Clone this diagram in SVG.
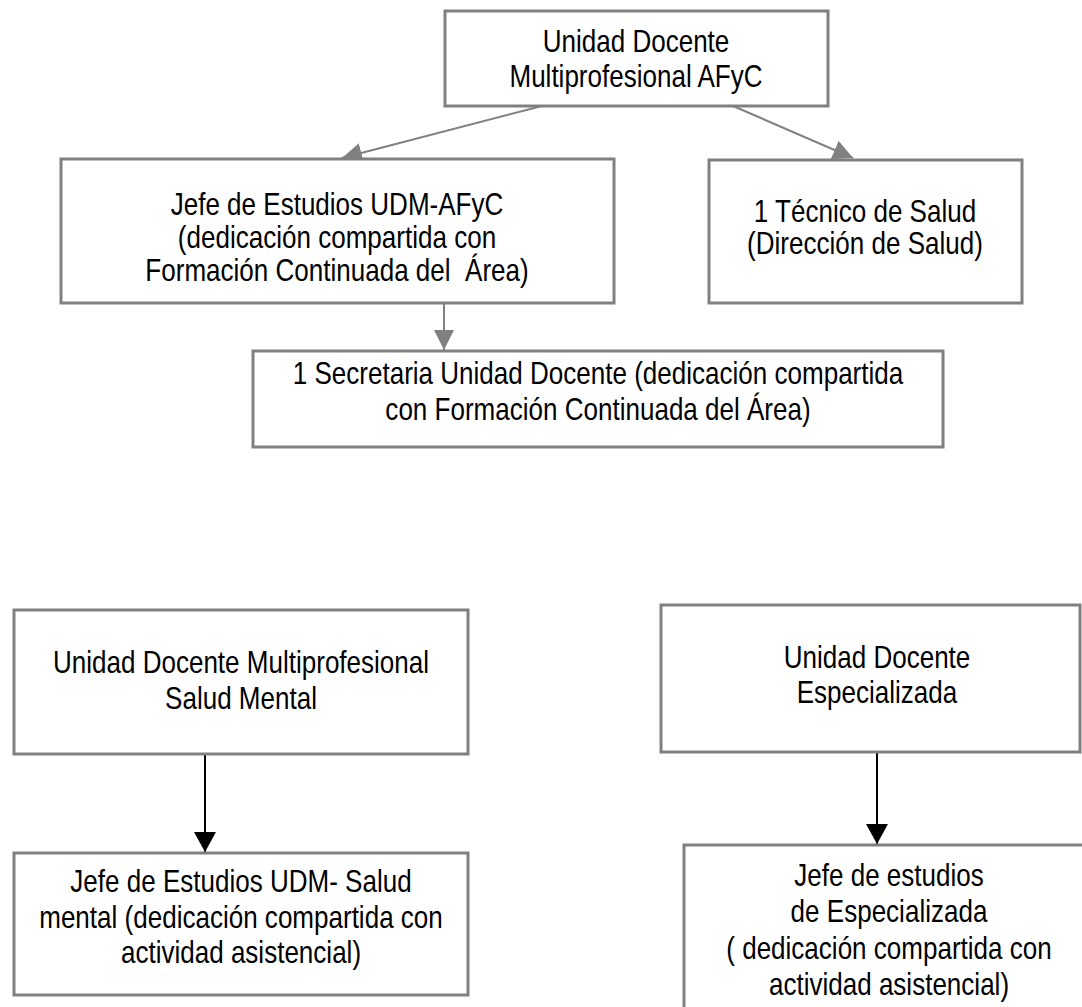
<svg xmlns="http://www.w3.org/2000/svg" width="1082" height="1007" viewBox="0 0 1082 1007">
<defs>
<style>
.box{fill:#fff;stroke:#808080;stroke-width:3}
.t{font-family:"Liberation Sans",Arial,sans-serif;font-size:31px;fill:#000;text-anchor:middle;white-space:pre}
.cg{stroke:#808080;stroke-width:2;fill:none}
.cb{stroke:#000;stroke-width:2;fill:none}
</style>
<marker id="ag" markerUnits="userSpaceOnUse" markerWidth="20" markerHeight="20" refX="20" refY="10" orient="auto" viewBox="0 0 20 20"><path d="M0,0 L20,10 L0,20 z" fill="#808080"/></marker>
<marker id="ab" markerUnits="userSpaceOnUse" markerWidth="20" markerHeight="22" refX="20" refY="11" orient="auto" viewBox="0 0 20 22"><path d="M0,0 L20,11 L0,22 z" fill="#000"/></marker>
</defs>
<rect width="1082" height="1007" fill="#fff"/>
<g id="connectors">
<line class="cg" x1="542" y1="106" x2="342" y2="158" marker-end="url(#ag)"/>
<line class="cg" x1="733" y1="106" x2="853" y2="158" marker-end="url(#ag)"/>
<line class="cg" x1="444" y1="303" x2="444" y2="350" marker-end="url(#ag)"/>
<line class="cb" x1="205" y1="754" x2="205" y2="852" marker-end="url(#ab)"/>
<line class="cb" x1="877" y1="752" x2="877" y2="844" marker-end="url(#ab)"/>
</g>
<g id="n1">
<rect class="box" x="445" y="11" width="383" height="95"/>
<text class="t" transform="translate(636 0) scale(0.84 1)"><tspan x="0" y="52">Unidad Docente</tspan><tspan x="0" y="87">Multiprofesional AFyC</tspan></text>
</g>
<g id="n2">
<rect class="box" x="61" y="159" width="553" height="144"/>
<text class="t" transform="translate(337 0) scale(0.84 1)" xml:space="preserve"><tspan x="0" y="215">Jefe de Estudios UDM-AFyC</tspan><tspan x="0" y="248">(dedicación compartida con</tspan><tspan x="0" y="281">Formación Continuada del  Área)</tspan></text>
</g>
<g id="n3">
<rect class="box" x="709" y="160" width="313" height="143"/>
<text class="t" transform="translate(865 0) scale(0.84 1)"><tspan x="0" y="222">1 Técnico de Salud</tspan><tspan x="0" y="254">(Dirección de Salud)</tspan></text>
</g>
<g id="n4">
<rect class="box" x="253" y="351" width="690" height="96"/>
<text class="t" transform="translate(598 0) scale(0.84 1)"><tspan x="0" y="384">1 Secretaria Unidad Docente (dedicación compartida</tspan><tspan x="0" y="420">con Formación Continuada del Área)</tspan></text>
</g>
<g id="n5">
<rect class="box" x="14" y="610" width="454" height="144"/>
<text class="t" transform="translate(241 0) scale(0.84 1)"><tspan x="0" y="673">Unidad Docente Multiprofesional</tspan><tspan x="0" y="709">Salud Mental</tspan></text>
</g>
<g id="n6">
<rect class="box" x="14" y="853" width="454" height="142"/>
<text class="t" transform="translate(241 0) scale(0.84 1)"><tspan x="0" y="892">Jefe de Estudios UDM- Salud</tspan><tspan x="0" y="928">mental (dedicación compartida con</tspan><tspan x="0" y="963">actividad asistencial)</tspan></text>
</g>
<g id="n7">
<rect class="box" x="661" y="605" width="419" height="147"/>
<text class="t" transform="translate(877 0) scale(0.84 1)"><tspan x="0" y="668">Unidad Docente</tspan><tspan x="0" y="703">Especializada</tspan></text>
</g>
<g id="n8">
<rect class="box" x="684" y="845" width="420" height="200"/>
<text class="t" transform="translate(889 0) scale(0.84 1)" xml:space="preserve"><tspan x="0" y="886">Jefe de estudios</tspan><tspan x="0" y="922">de Especializada</tspan><tspan x="0" y="959">( dedicación compartida con</tspan><tspan x="0" y="995">actividad asistencial)</tspan></text>
</g>
</svg>
